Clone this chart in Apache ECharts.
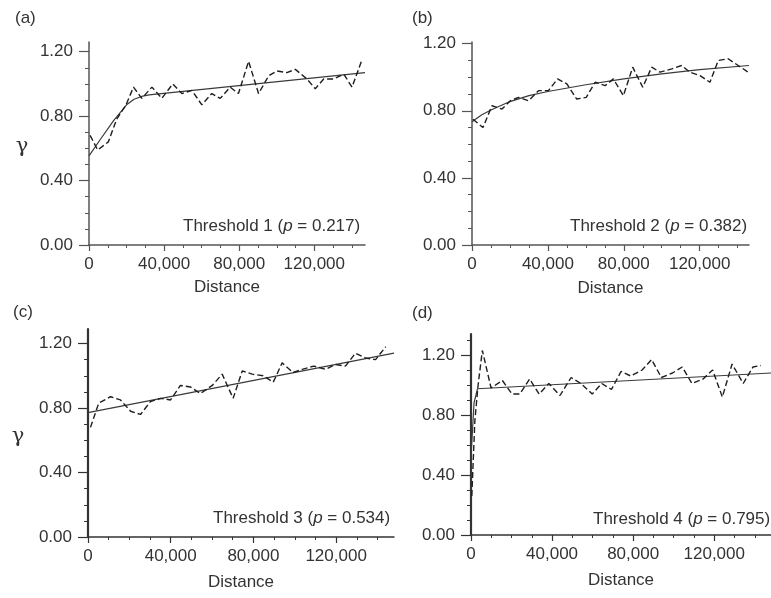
<!DOCTYPE html>
<html>
<head>
<meta charset="utf-8">
<script src="https://cdn.jsdelivr.net/npm/echarts@6/dist/echarts.min.js"></script>
<style>html,body{margin:0;padding:0;background:#fff;}#c{width:771px;height:598px;}</style>
</head>
<body>
<div id="c"></div>
<script>
// ---- Data ----
const xTickLabels = [0, 40000, 80000, 120000];
const yTickLabels = [0, 0.4, 0.8, 1.2];

// Panel (a) Threshold 1
const distA  = [600, 4600, 10300, 14700, 19700, 23700, 28100, 33500, 38800, 44600, 49500, 54800, 60100, 65400, 69900, 75200, 79600, 85000, 90300, 95700, 100100, 105400, 109900, 116100, 120500, 125000, 130300, 135700, 140100, 145400];
const gammaA = [0.68, 0.59, 0.64, 0.78, 0.87, 0.98, 0.91, 0.98, 0.91, 1.00, 0.94, 0.96, 0.87, 0.94, 0.91, 0.98, 0.94, 1.14, 0.94, 1.05, 1.08, 1.07, 1.09, 1.03, 0.97, 1.03, 1.03, 1.06, 0.98, 1.15];
const modelDistA  = [0, 6000, 13000, 20000, 24000, 28000, 32000, 147000];
const modelGammaA = [0.553, 0.655, 0.77, 0.87, 0.905, 0.922, 0.932, 1.07];

// Panel (b) Threshold 2
const distB  = [500, 5800, 10500, 15800, 20200, 24500, 29800, 35100, 40300, 45100, 50000, 55200, 60200, 64900, 70200, 74500, 79800, 84700, 90000, 94700, 99100, 105300, 110500, 114900, 120200, 125400, 129800, 135000, 140300, 145600];
const gammaB = [0.75, 0.70, 0.83, 0.81, 0.86, 0.88, 0.86, 0.92, 0.92, 0.99, 0.96, 0.87, 0.88, 0.97, 0.95, 0.99, 0.89, 1.06, 0.94, 1.06, 1.03, 1.05, 1.07, 1.03, 1.01, 0.97, 1.10, 1.11, 1.07, 1.03];
const modelDistB  = [0, 5000, 10000, 20000, 30000, 40000, 60000, 80000, 100000, 120000, 146000];
const modelGammaB = [0.735, 0.775, 0.805, 0.855, 0.89, 0.915, 0.955, 0.99, 1.02, 1.045, 1.07];

// Panel (c) Threshold 3
const distC  = [1200, 5200, 10900, 15700, 20600, 25400, 30200, 35100, 39900, 44700, 49600, 54400, 60100, 64900, 70200, 74600, 79400, 84700, 89600, 93900, 99200, 103600, 109200, 114900, 119700, 124500, 129400, 134200, 139100, 144000];
const gammaC = [0.68, 0.83, 0.87, 0.85, 0.78, 0.76, 0.84, 0.86, 0.85, 0.94, 0.93, 0.89, 0.94, 1.01, 0.86, 1.03, 1.01, 1.00, 0.96, 1.08, 1.02, 1.04, 1.06, 1.04, 1.07, 1.06, 1.14, 1.11, 1.10, 1.18];
const modelDistC  = [0, 148000];
const modelGammaC = [0.771, 1.14];

// Panel (d) Threshold 4
const distD  = [400, 1900, 3500, 5600, 9900, 15500, 20200, 24100, 28900, 33600, 38400, 43900, 49400, 54200, 59800, 64500, 69300, 74000, 78800, 84400, 89100, 93900, 99400, 104200, 109000, 114500, 119200, 124000, 128800, 134300, 139100, 143000];
const gammaD = [0.26, 0.76, 1.00, 1.23, 0.98, 1.03, 0.94, 0.94, 1.04, 0.94, 1.01, 0.93, 1.05, 1.01, 0.94, 1.01, 0.97, 1.09, 1.06, 1.10, 1.17, 1.05, 1.08, 1.12, 1.01, 1.04, 1.10, 0.92, 1.14, 1.01, 1.12, 1.13];
const modelDistD  = [0, 200, 1500, 3200, 148000];
const modelGammaD = [0.26, 0.57, 0.88, 0.975, 1.08];

const panelLetters = ['(a)', '(b)', '(c)', '(d)'];
const thresholdNames = ['Threshold 1', 'Threshold 2', 'Threshold 3', 'Threshold 4'];
const pValues = ['0.217', '0.382', '0.534', '0.795'];

// ---- Layout ----
const FONT = "'Liberation Sans', Arial, Helvetica, sans-serif";
const TXT = '#333';
const panels = [
  {dist: distA, gamma: gammaA, mDist: modelDistA, mGamma: modelGammaA,
   grid: {left: 89, top: 42, width: 276, height: 203}, xMax: 147000, yMax: 1.26,
   axisColor: '#555', yAxisWidth: 1.5, nameGap: 34,
   letter: [15, 20], thr: [183, 226], gammaPos: [22, 147]},
  {dist: distB, gamma: gammaB, mDist: modelDistB, mGamma: modelGammaB,
   grid: {left: 472, top: 42, width: 277, height: 203}, xMax: 146000, yMax: 1.21,
   axisColor: '#555', yAxisWidth: 1.5, nameGap: 35,
   letter: [412, 20], thr: [570, 226], gammaPos: null},
  {dist: distC, gamma: gammaC, mDist: modelDistC, mGamma: modelGammaC,
   grid: {left: 88, top: 329, width: 306, height: 208}, xMax: 148000, yMax: 1.29,
   axisColor: '#333', yAxisWidth: 2.2, nameGap: 37,
   letter: [13, 314], thr: [213, 518], gammaPos: [18, 437]},
  {dist: distD, gamma: gammaD, mDist: modelDistD, mGamma: modelGammaD,
   grid: {left: 471, top: 334, width: 311, height: 201}, xMax: 148000, yMax: 1.34,
   axisColor: '#333', yAxisWidth: 2.2, nameGap: 37,
   letter: [412, 315], thr: [593, 519], gammaPos: null}
];

function fmtThousands(v) {
  return String(Math.round(v)).replace(/\B(?=(\d{3})+(?!\d))/g, ',');
}
function range(step, max) {
  const out = [];
  for (let i = 0; i * step <= max + 1e-9; i++) out.push(+(i * step).toFixed(6));
  return out;
}

const grids = [], xAxes = [], yAxes = [], series = [], graphics = [];
panels.forEach((p, k) => {
  grids.push(Object.assign({containLabel: false}, p.grid));
  const xMinor = range(10000, p.xMax);
  const yMinor = range(0.1, p.yMax);
  xAxes.push({
    type: 'value', gridIndex: k, min: 0, max: p.xMax, position: 'bottom',
    axisLine: {show: true, onZero: false, lineStyle: {color: p.axisColor, width: 1.5}},
    axisTick: {show: true, customValues: xMinor, length: 3, lineStyle: {color: p.axisColor, width: 1}},
    axisLabel: {customValues: xTickLabels, formatter: fmtThousands, margin: 11,
                color: TXT, fontSize: 17, fontFamily: FONT},
    splitLine: {show: false},
    name: 'Distance', nameLocation: 'middle', nameGap: p.nameGap,
    nameTextStyle: {color: TXT, fontSize: 17, fontFamily: FONT}
  });
  xAxes.push({
    type: 'value', gridIndex: k, min: 0, max: p.xMax, position: 'bottom',
    axisLine: {show: false, onZero: false},
    axisTick: {show: true, customValues: xTickLabels, length: 6, lineStyle: {color: p.axisColor, width: 1.2}},
    axisLabel: {show: false}, splitLine: {show: false}
  });
  yAxes.push({
    type: 'value', gridIndex: k, min: 0, max: p.yMax, position: 'left',
    axisLine: {show: true, onZero: false, lineStyle: {color: p.axisColor, width: p.yAxisWidth}},
    axisTick: {show: true, customValues: yMinor, length: 4, lineStyle: {color: p.axisColor, width: 1}},
    axisLabel: {customValues: yTickLabels, formatter: v => v.toFixed(2), margin: 16,
                color: TXT, fontSize: 17, fontFamily: FONT},
    splitLine: {show: false}
  });
  yAxes.push({
    type: 'value', gridIndex: k, min: 0, max: p.yMax, position: 'left',
    axisLine: {show: false, onZero: false},
    axisTick: {show: true, customValues: yTickLabels, length: 10, lineStyle: {color: p.axisColor, width: 1.2}},
    axisLabel: {show: false}, splitLine: {show: false}
  });
  series.push({
    type: 'line', xAxisIndex: 2 * k, yAxisIndex: 2 * k, showSymbol: false, silent: true,
    data: p.mDist.map((d, i) => [d, p.mGamma[i]]),
    lineStyle: {color: '#3a3a3a', width: 1.2, type: 'solid'}, z: 3
  });
  series.push({
    type: 'line', xAxisIndex: 2 * k, yAxisIndex: 2 * k, showSymbol: false, silent: true,
    data: p.dist.map((d, i) => [d, p.gamma[i]]),
    lineStyle: {color: '#1e1e1e', width: 1.4, type: [6, 3]}, z: 4
  });
  graphics.push({
    type: 'text', left: p.letter[0], top: p.letter[1] - 10,
    style: {text: panelLetters[k], fill: TXT, font: '17px ' + FONT}
  });
  graphics.push({
    type: 'text', x: p.thr[0], y: p.thr[1],
    style: {
      text: '{r|' + thresholdNames[k] + ' (}{i|p}{r| = ' + pValues[k] + ')}',
      verticalAlign: 'middle', align: 'left',
      rich: {
        r: {fill: TXT, fontSize: 17, fontFamily: FONT},
        i: {fill: TXT, fontSize: 17, fontFamily: FONT, fontStyle: 'italic'}
      }
    }
  });
  if (p.gammaPos) {
    graphics.push({
      type: 'text', x: p.gammaPos[0], y: p.gammaPos[1],
      style: {text: 'γ', fill: TXT, font: "21px 'DejaVu Serif', 'Liberation Serif', serif",
              align: 'center', verticalAlign: 'middle'}
    });
  }
});

const chart = echarts.init(document.getElementById('c'), null, {renderer: 'canvas'});
chart.setOption({
  backgroundColor: '#fff',
  animation: false,
  grid: grids, xAxis: xAxes, yAxis: yAxes, series: series, graphic: graphics
});
</script>
</body>
</html>
